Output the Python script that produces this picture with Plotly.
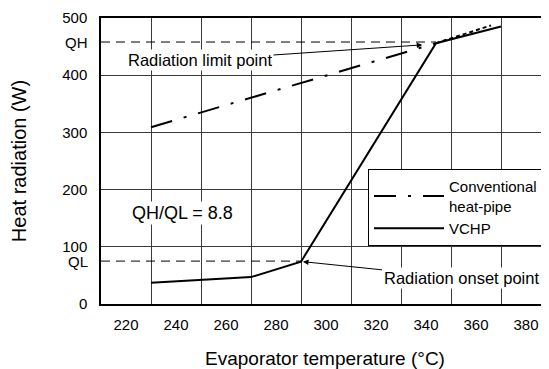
import plotly.graph_objects as go

# ---- data ----
vchp_x = [230, 270, 290, 344, 370]
vchp_y = [37, 47, 74, 456, 485]

conv_x = [230, 344]
conv_y = [309, 456]
conv_ext_x = [344, 366]
conv_ext_y = [456, 487]

QH = 458
QL = 75
qh_x = [210, 344]
ql_x = [210, 290]

x_ticks = [220, 240, 260, 280, 300, 320, 340, 360, 380]
x_grid = [230, 250, 270, 290, 310, 330, 350, 370]
y_ticks = [0, 100, 200, 300, 400, 500]
y_extra_ticks = [QL, QH]
y_extra_labels = ["QL", "QH"]

FONT = "Liberation Sans, Arial, Helvetica, sans-serif"
XR = [210, 389.2]
YR = [0, 500]
GRID = "#3a3a3a"

fig = go.Figure()

fig.add_trace(go.Scatter(x=qh_x, y=[QH, QH], mode="lines",
                         line=dict(color="black", width=1, dash="9px,6px"),
                         showlegend=False, hoverinfo="skip"))
fig.add_trace(go.Scatter(x=ql_x, y=[QL, QL], mode="lines",
                         line=dict(color="black", width=1, dash="9px,6px"),
                         showlegend=False, hoverinfo="skip"))

fig.add_trace(go.Scatter(x=conv_x, y=conv_y, mode="lines",
                         name="Conventional<br>heat-pipe",
                         line=dict(color="black", width=2, dash="22px,12px,3px,12px")))
fig.add_trace(go.Scatter(x=conv_ext_x, y=conv_ext_y, mode="lines",
                         line=dict(color="black", width=2, dash="4px,3px"),
                         showlegend=False))
fig.add_trace(go.Scatter(x=vchp_x, y=vchp_y, mode="lines", name="VCHP",
                         line=dict(color="black", width=2)))

# page body has an 8px margin, so the figure is 8px smaller and offset
fig.update_layout(
    template="none",
    width=541, height=361,
    margin=dict(l=93, r=0, t=10, b=65, autoexpand=False),
    paper_bgcolor="white", plot_bgcolor="white",
    font=dict(family=FONT, size=15, color="black"),
    xaxis=dict(range=XR, tickvals=x_ticks, showgrid=False, zeroline=False,
               showline=True, mirror=True, linecolor="black", linewidth=1.5,
               ticks="", ticklabelstandoff=6, automargin=False,
               tickfont=dict(size=15),
               minor=dict(tickvals=x_grid, showgrid=True, gridcolor=GRID,
                          gridwidth=1, ticks=""),
               title=dict(text="Evaporator temperature (\u00b0C)",
                          font=dict(size=19), standoff=28)),
    yaxis=dict(range=YR, tickvals=y_ticks, showgrid=True, gridcolor=GRID,
               gridwidth=1, zeroline=False, showline=True, linecolor="black",
               linewidth=1.5, ticks="", ticklabelstandoff=9, automargin=False,
               tickfont=dict(size=15),
               title=dict(text="Heat radiation (W)", font=dict(size=20),
                          standoff=38)),
    legend=dict(x=0.596, y=0.472, xanchor="left", yanchor="top",
                bgcolor="white", bordercolor="black", borderwidth=1,
                font=dict(size=15), itemwidth=70),
    showlegend=True,
)

for v, lab in zip(y_extra_ticks, y_extra_labels):
    fig.add_annotation(x=0, xref="paper", y=v, yref="y", text=lab,
                       showarrow=False, xanchor="right", xshift=-11,
                       font=dict(size=15))

fig.add_annotation(x=338.5, y=453, ax=249.6, ay=426.6, axref="x", ayref="y",
                   text="Radiation limit point", showarrow=True,
                   arrowhead=2, arrowsize=1.1, arrowwidth=1, arrowcolor="black",
                   bgcolor="white", font=dict(size=16.5))
fig.add_annotation(x=290.8, y=74, ax=354, ay=45.5, axref="x", ayref="y",
                   text="Radiation onset point", showarrow=True,
                   arrowhead=2, arrowsize=1.1, arrowwidth=1, arrowcolor="black",
                   bgcolor="white", font=dict(size=16.5))
fig.add_annotation(x=242.4, y=159, text="QH/QL = 8.8", showarrow=False,
                   bgcolor="white", font=dict(size=18))

fig.write_html("out.html")
